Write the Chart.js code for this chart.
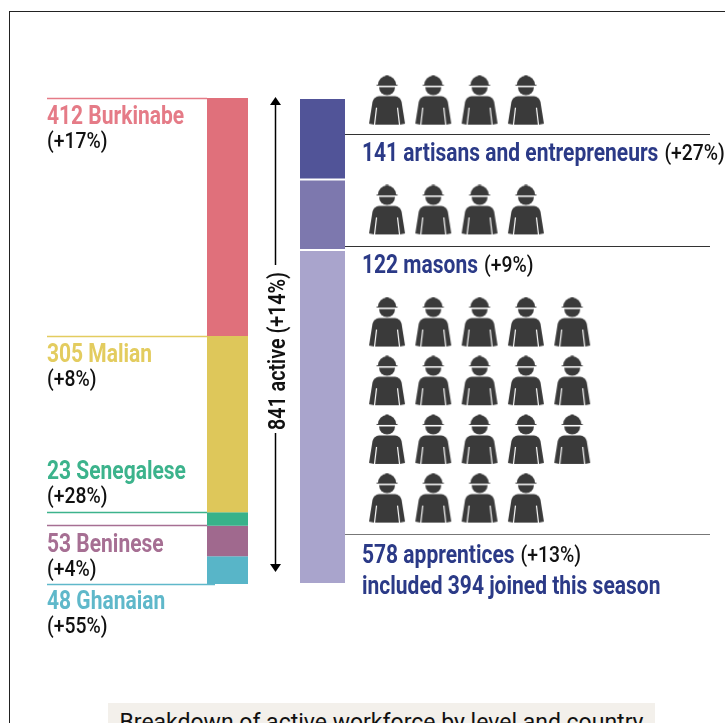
<!DOCTYPE html>
<html>
<head>
<meta charset="utf-8">
<title>Active workforce</title>
<script src="https://cdn.jsdelivr.net/npm/chart.js@4/dist/chart.umd.min.js"></script>
<style>
    html, body { margin: 0; padding: 0; background: #fff; overflow: hidden; }
    #wrap { position: relative; width: 725px; height: 723px; overflow: hidden; }
    #frame { position: absolute; left: 9px; top: 11px; width: 730px; height: 730px; border: 1px solid #222; box-sizing: border-box; }
    #chart { position: absolute; left: 0; top: 0; }
    #caption {
        position: absolute; left: 108px; top: 703px; width: 547px; height: 30px;
        background: #f3f0eb; color: #111; text-align: center; white-space: nowrap;
        font: 400 23px/30px Roboto, sans-serif; padding-top: 5px; box-sizing: border-box;
    }
</style>
</head>
<body>
<div id="wrap">
    <div id="frame"></div>
    <canvas id="chart" width="725" height="723"></canvas>
    <div id="caption">Breakdown of active workforce by level and country</div>
</div>
<script>
const ORIGIN_NAMES = ["Burkinabe", "Malian", "Senegalese", "Beninese", "Ghanaian"];
const ORIGIN_COUNTS = [412, 305, 23, 53, 48];
const ORIGIN_CHANGES = ["+17%", "+8%", "+28%", "+4%", "+55%"];

const LEVEL_NAMES = ["artisans and entrepreneurs", "masons", "apprentices"];
const LEVEL_COUNTS = [141, 122, 578];
const LEVEL_CHANGES = ["+27%", "+9%", "+13%"];
const LEVEL_NOTE = "included 394 joined this season";
const ICON_ROWS = [[4], [4], [5, 5, 5, 4]];

const TOTAL_LABEL = "841 active (+14%)";
const STACK_LABELS = ["By country", "By level", "", "", ""];

const ORIGIN_COLORS = ["#e0707b", "#dec75a", "#38b28a", "#a0698e", "#58b5c8"];
const ORIGIN_TEXT = ["#e57b87", "#e3cc5f", "#3cb38c", "#a66f93", "#5fb8ca"];
const LEVEL_COLORS = ["#515498", "#7d78ae", "#a9a4cc"];
const NAVY = "#2b3a87";
const INK = "#111111";

// placement of the icon rows on their helper scale (one unit = one apprentice row)
const ICON_ROW_SLOTS = [0, 1.87, 3.78, 4.78, 5.78, 6.78];

function makeIcon() {
    const c = document.createElement("canvas");
    c.width = 40;
    c.height = 52;
    const g = c.getContext("2d");
    g.translate(20, 1);
    g.fillStyle = "#3a3a3a";

    // helmet and head
    g.beginPath();
    g.arc(0, 9, 9, Math.PI, 0);
    g.closePath();
    g.fill();
    g.fillRect(-10.5, 9, 21, 1);
    g.fillRect(-1.5, -0.5, 3, 3);
    g.beginPath();
    g.arc(0, 11.5, 8, 0, Math.PI);
    g.closePath();
    g.fill();

    // body
    g.beginPath();
    g.moveTo(-8, 20.5);
    g.lineTo(8, 20.5);
    g.quadraticCurveTo(13, 21, 14.5, 26);
    g.lineTo(18, 48);
    g.lineTo(13, 49);
    g.lineTo(-13, 49);
    g.lineTo(-18, 48);
    g.lineTo(-14.5, 26);
    g.quadraticCurveTo(-13, 21, -8, 20.5);
    g.closePath();
    g.fill();

    // arm gaps
    g.strokeStyle = "#fff";
    g.lineWidth = 1.2;
    g.beginPath();
    g.moveTo(-10.5, 32);
    g.lineTo(-12.5, 49);
    g.moveTo(10.5, 32);
    g.lineTo(12.5, 49);
    g.stroke();
    return c;
}

function iconPoints() {
    const points = [];
    let slot = 0;
    ICON_ROWS.forEach(rows => rows.forEach(count => {
        for (let col = 0; col < count; col++) {
            points.push({ x: col, y: ICON_ROW_SLOTS[slot] });
        }
        slot++;
    }));
    return points;
}

function drawText(ctx, text, x, y, size, color, weight, squeeze) {
    ctx.save();
    ctx.translate(x, y);
    ctx.scale(squeeze, 1);
    ctx.font = weight + " " + size + "px Roboto, sans-serif";
    ctx.fillStyle = color;
    ctx.textBaseline = "alphabetic";
    ctx.fillText(text, 0, 0);
    const w = ctx.measureText(text).width * squeeze;
    ctx.restore();
    return w;
}

function nameText(ctx, text, x, y, color) {
    return drawText(ctx, text, x, y + 1, 25, color, 700, 0.84);
}

function changeText(ctx, text, x, y) {
    return drawText(ctx, "(" + text + ")", x, y, 22, INK, 500, 0.88);
}

function hLine(ctx, x1, x2, y, color, width) {
    ctx.strokeStyle = color;
    ctx.lineWidth = width;
    ctx.beginPath();
    ctx.moveTo(x1, Math.round(y) + 0.5);
    ctx.lineTo(x2, Math.round(y) + 0.5);
    ctx.stroke();
}

const annotations = {
    id: "annotations",
    afterDatasetsDraw(chart) {
        const ctx = chart.ctx;
        const y = chart.scales.y;

        // country labels and their leader lines
        const originLine = [0, 412, 717, 740, 841];
        const originText = [25, 25, -34, 25, 24];
        const lineEnd = [207, 207, 207, 207, 215];
        ORIGIN_NAMES.forEach((name, i) => {
            const py = y.getPixelForValue(originLine[i]);
            hLine(ctx, 47, lineEnd[i], py - 0.5, ORIGIN_TEXT[i], 1.5);
            const base = py + originText[i];
            nameText(ctx, ORIGIN_COUNTS[i] + " " + name, 47, base, ORIGIN_TEXT[i]);
            changeText(ctx, ORIGIN_CHANGES[i], 47, base + 25);
        });

        // level labels and their leader lines
        const levelBottom = [141, 263, 841];
        const lineRise = [45.5, 4, 50];
        const levelText = [26, 26, 28];
        LEVEL_NAMES.forEach((name, i) => {
            const py = y.getPixelForValue(levelBottom[i]) - lineRise[i];
            hLine(ctx, 345, 710, py, i === 2 ? "#777" : "#333", 1);
            const base = py + levelText[i];
            const w = nameText(ctx, LEVEL_COUNTS[i] + " " + name, 362, base, NAVY);
            changeText(ctx, LEVEL_CHANGES[i], 362 + w + 6, base);
        });
        nameText(ctx, LEVEL_NOTE, 362, y.getPixelForValue(841) + 9, NAVY);

        // double arrow with the rotated total
        const ax = 275.5;
        const top = y.getPixelForValue(0) - 1;
        const bottom = y.getPixelForValue(841) - 12;
        ctx.strokeStyle = "#000";
        ctx.fillStyle = "#000";
        ctx.lineWidth = 1.5;
        ctx.beginPath();
        ctx.moveTo(ax, top + 6);
        ctx.lineTo(ax, 265);
        ctx.moveTo(ax, 433);
        ctx.lineTo(ax, bottom - 6);
        ctx.stroke();
        [[top, 1], [bottom, -1]].forEach(([tip, dir]) => {
            ctx.beginPath();
            ctx.moveTo(ax, tip);
            ctx.lineTo(ax - 5.5, tip + dir * 8);
            ctx.lineTo(ax + 5.5, tip + dir * 8);
            ctx.closePath();
            ctx.fill();
        });
        ctx.save();
        ctx.translate(285, 430);
        ctx.rotate(-Math.PI / 2);
        drawText(ctx, TOTAL_LABEL, 0, 0, 24, INK, 600, 0.82);
        ctx.restore();
    }
};

// grouped: false keeps the bars on their category centres (the icon axis would count as a second group)
const barDatasets = [
    ...ORIGIN_COUNTS.map((value, i) => ({
        label: ORIGIN_NAMES[i],
        data: [value, null],
        backgroundColor: ORIGIN_COLORS[i],
        grouped: false,
        maxBarThickness: 41,
        borderWidth: 0,
        order: 2
    })),
    ...LEVEL_COUNTS.map((value, i) => ({
        label: LEVEL_NAMES[i],
        data: [null, value],
        backgroundColor: LEVEL_COLORS[i],
        borderColor: "#fff",
        borderWidth: { top: 1, bottom: 1, left: 0, right: 0 },
        borderSkipped: false,
        grouped: false,
        maxBarThickness: 45,
        order: 2
    }))
];

const iconDataset = {
    type: "scatter",
    label: "workers",
    data: iconPoints(),
    xAxisID: "xIcon",
    yAxisID: "yIcon",
    pointStyle: makeIcon(),
    pointRadius: 25,
    pointHoverRadius: 25,
    clip: false,
    order: 1
};

new Chart(document.getElementById("chart"), {
    type: "bar",
    data: { labels: STACK_LABELS, datasets: [...barDatasets, iconDataset] },
    options: {
        responsive: false,
        animation: false,
        events: [],
        layout: { padding: { left: 180, right: 70, top: 98, bottom: 139 } },
        plugins: { legend: { display: false }, tooltip: { enabled: false } },
        scales: {
            x: { stacked: true, display: false, offset: true },
            y: { stacked: true, display: false, reverse: true, min: 0, max: 841 },
            // one unit = one pictogram column / row
            xIcon: { type: "linear", display: false, offset: false, min: -4.471, max: 5.788 },
            yIcon: { type: "linear", display: false, reverse: true, offset: false, min: -0.045, max: 8.235 }
        }
    },
    plugins: [annotations]
});
</script>
</body>
</html>
